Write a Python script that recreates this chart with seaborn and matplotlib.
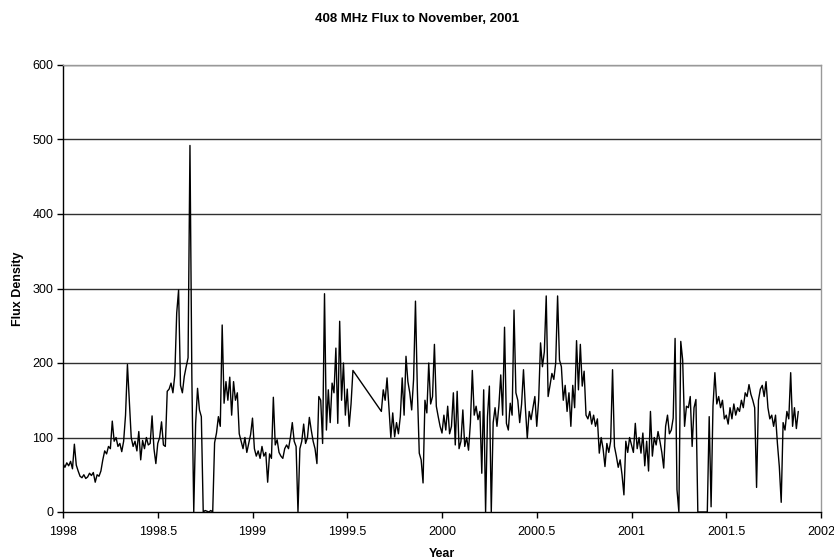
import numpy as np
import pandas as pd
import matplotlib
matplotlib.use("Agg")
import matplotlib.pyplot as plt
import seaborn as sns

# Flux readings, sampled every 0.01 year, per segment (start year, values)
start_1998 = 1998.00
flux_1998 = [65, 60, 66, 62, 68, 58, 91, 63, 55, 48,
             46, 50, 45, 47, 52, 49, 53, 40, 50, 48,
             55, 70, 82, 78, 88, 85, 122, 95, 100, 88,
             92, 81, 95, 130, 198, 150, 100, 88, 95, 82,
             108, 70, 96, 85, 100, 90, 92, 129, 85, 65,
             92, 100, 121, 90, 88, 162, 165, 173, 160, 184,
             267, 298, 170, 160, 182, 195, 207, 492, 180, 0,
             119, 166, 137, 128, 0, 2, 1, 0, 2, 0,
             93, 106, 128, 115, 251, 146, 175, 150, 181, 130,
             175, 150, 160, 105, 95, 85, 100, 80, 92, 104]

start_1999a = 1999.00
flux_1999a = [126, 85, 75, 82, 72, 88, 75, 80, 40, 78,
              72, 154, 90, 97, 80, 75, 72, 85, 90, 85,
              100, 120, 95, 88, 0, 85, 95, 118, 92, 100,
              127, 110, 95, 85, 65, 155, 150, 92, 293, 110,
              164, 120, 173, 160, 220, 119, 256, 150, 200, 130,
              165, 115, 145, 190]

start_1999b = 1999.68
flux_1999b = [135, 164, 150, 180, 140, 100, 133, 101, 120, 105,
              128, 180, 130, 209, 175, 160, 137, 178, 283, 164,
              79, 70, 39, 150, 133, 200, 145, 155, 225, 142,
              128, 115, 106]

start_2000 = 2000.01
flux_2000 = [130, 110, 142, 105, 115, 160, 90, 162, 85,
             95, 137, 88, 100, 83, 120, 190, 130, 142, 124,
             135, 52, 164, 0, 128, 169, 0, 120, 140, 115,
             142, 184, 130, 248, 119, 110, 146, 130, 271, 160,
             150, 120, 145, 191, 140, 99, 135, 124, 140, 155,
             115, 150, 227, 195, 215, 290, 155, 170, 186, 178,
             200, 290, 204, 195, 150, 170, 135, 160, 115, 170,
             140, 230, 164, 225, 169, 189, 130, 125, 135, 118,
             130, 115, 125, 79, 100, 85, 61, 92, 80, 95,
             191, 88, 75, 60, 70, 50, 23, 95, 80, 100]

start_2001 = 2001.00
flux_2001 = [90, 80, 119, 85, 100, 79, 106, 62, 95, 55,
             135, 75, 100, 90, 108, 95, 80, 59, 115, 130,
             105, 110, 126, 233, 30, 0, 229, 204, 115, 142,
             140, 155, 88, 140, 151, 0, 0, 0, 0, 0,
             0, 128, 7, 142, 187, 145, 155, 140, 150, 125,
             130, 118, 140, 125, 145, 130, 140, 135, 150, 140,
             160, 155, 171, 158, 150, 140, 33, 150, 165, 170,
             155, 175, 140, 125, 130, 115, 130, 92, 61, 13,
             120, 110, 135, 125, 187, 115, 140, 112, 135]

segments = [(start_1998, flux_1998), (start_1999a, flux_1999a),
            (start_1999b, flux_1999b), (start_2000, flux_2000),
            (start_2001, flux_2001)]
years, flux = [], []
for s, vals in segments:
    years.extend(s + 0.01 * np.arange(len(vals)))
    flux.extend(vals)
df = pd.DataFrame({"Year": years, "Flux": flux})

x_ticks = [1998, 1998.5, 1999, 1999.5, 2000, 2000.5, 2001, 2001.5, 2002]
x_tick_labels = ["1998", "1998.5", "1999", "1999.5", "2000", "2000.5", "2001", "2001.5", "2002"]
y_ticks = [0, 100, 200, 300, 400, 500, 600]

sns.set_style("white")
plt.rcParams['font.family'] = ['Liberation Sans', 'DejaVu Sans']
plt.rcParams['text.color'] = 'black'
plt.rcParams['axes.labelcolor'] = 'black'

fig = plt.figure(figsize=(8.34, 5.6), dpi=100)
ax = fig.add_axes([63/834, 1 - 512/560, (821 - 63)/834, (512 - 65)/560])

for y in y_ticks[1:]:
    ax.axhline(y, color="#303030", lw=1.0, zorder=1)

sns.lineplot(data=df, x="Year", y="Flux", ax=ax, color="black", lw=1.0,
             sort=False, estimator=None, zorder=3)

ax.set_xlim(1998, 2002)
ax.set_ylim(0, 600)
ax.set_xticks(x_ticks)
ax.set_xticklabels(x_tick_labels)
ax.set_yticks(y_ticks)
ax.tick_params(axis="both", labelsize=9, length=4, width=1, direction="out",
               colors="black")
ax.tick_params(axis="x", pad=6)
ax.tick_params(axis="y", pad=3)
ax.tick_params(axis="both", which="both", bottom=True, left=True)
for side in ["left", "bottom"]:
    ax.spines[side].set_color("black")
    ax.spines[side].set_linewidth(1)
for side in ["top", "right"]:
    ax.spines[side].set_color("#999999")
    ax.spines[side].set_linewidth(1)
    ax.spines[side].set_visible(True)

ax.set_xlabel("Year", fontsize=9, fontweight="bold", labelpad=7, color="black")
ax.set_ylabel("Flux Density", fontsize=9, fontweight="bold", labelpad=6, color="black")
fig.text(0.5, 1 - 19/560, "408 MHz Flux to November, 2001", ha="center", va="center",
         fontsize=9.5, fontweight="bold", color="black")

fig.savefig("out.png", dpi=100, facecolor="white")
